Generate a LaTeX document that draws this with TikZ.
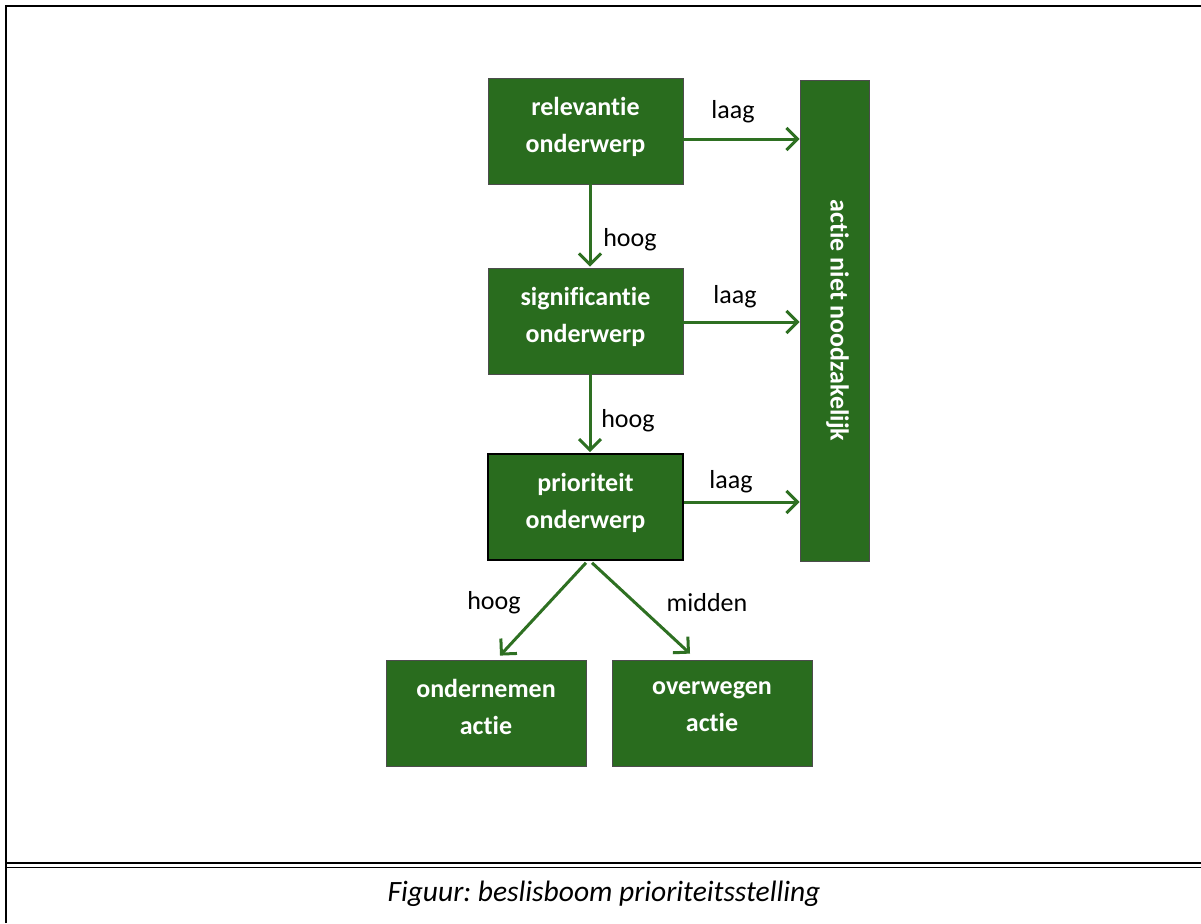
\documentclass[tikz,border=0pt]{standalone}
\usepackage{fontspec}
\setmainfont{Carlito}[Ligatures={NoCommon}]
\frenchspacing
\usetikzlibrary{arrows.meta,calc}
\definecolor{boxgreen}{RGB}{41,108,30}
\definecolor{arrowgreen}{RGB}{46,112,34}
\tikzset{
  gbox/.style={rectangle, fill=boxgreen, draw=black!70, line width=0.8pt,
    minimum width=195pt, minimum height=106pt, inner sep=0pt},
  btxt/.style={text=white, font=\fontsize{26}{37}\selectfont\bfseries, align=center, inner sep=0pt},
  garrow/.style={draw=arrowgreen, line width=3pt,
    -{Straight Barb[length=11pt,width=22pt,line width=3pt]}},
  lbl/.style={font=\fontsize{26}{30}\selectfont, text=black, inner sep=0pt},
  frame/.style={line width=2pt, draw=black}
}
\begin{document}
\begin{tikzpicture}[x=1pt,y=-1pt]
\useasboundingbox (0,0) rectangle (1201,923);
% frame
\draw[frame] (6,923) -- (6,6) -- (1201,6);
\draw[line width=1.6pt] (6,863) -- (1201,863);
\draw[line width=1.6pt] (6,867.5) -- (1201,867.5);
% boxes
\node[gbox] (rel) at (585.5,131) {};
\node[gbox] (sig) at (585.5,321) {};
\node[gbox, draw=black, line width=1.6pt] (pri) at (585.5,507) {};
\node[gbox, minimum width=69pt, minimum height=481pt] (act) at (834.5,320.5) {};
\node[gbox, minimum width=200pt] (ond) at (486,713) {};
\node[gbox, minimum width=200pt] (ove) at (712,713) {};
% box texts
\node[btxt] (reltxt) at ($(rel.center)+(0,-4)$) {relevantie\\onderwerp};
\node[btxt] (sigtxt) at ($(sig.center)+(0,-4)$) {significantie\\onderwerp};
\node[btxt] (pritxt) at ($(pri.center)+(0,-4)$) {prioriteit\\onderwerp};
\node[btxt, rotate=-90] (acttxt) at ($(act.center)+(3,0)$) {actie niet noodzakelijk};
\node[btxt] (ondtxt) at ($(ond.center)+(0,-6)$) {ondernemen\\actie};
\node[btxt] (ovetxt) at ($(ove.center)+(0,-6)$) {overwegen\\actie};
% arrows
\draw[garrow] ($(rel.east)+(0,8)$) -- ($(act.west)+(0,-181.5)$);
\draw[garrow] ($(sig.east)+(0,1)$) -- ($(act.west)+(0,1.5)$);
\draw[garrow] ($(pri.east)+(0,-5)$) -- ($(act.west)+(0,181.5)$);
\draw[garrow] ($(rel.south)+(4.5,0)$) -- ($(sig.north)+(4.5,-1)$);
\draw[garrow] ($(sig.south)+(4.5,0)$) -- ($(pri.north)+(4.5,-1)$);
\draw[garrow] ($(pri.south)+(0.5,2)$) -- ($(ond.north)+(14,-4)$);
\draw[garrow] ($(pri.south)+(6.5,2)$) -- ($(ove.north)+(-22,-6)$);
% labels
\node[lbl] (l1) at (733,112) {laag};
\node[lbl] (l2) at (735,297) {laag};
\node[lbl] (l3) at (731,482) {laag};
\node[lbl] (h1) at (630,240) {hoog};
\node[lbl] (h2) at (628,421) {hoog};
\node[lbl] (h3) at (494,603) {hoog};
\node[lbl] (m1) at (707,603) {midden};
% caption
\node[lbl, font=\fontsize{29.5}{33}\selectfont\itshape] (cap) at (604,894) {Figuur: beslisboom prioriteitsstelling};
\end{tikzpicture}
\end{document}
